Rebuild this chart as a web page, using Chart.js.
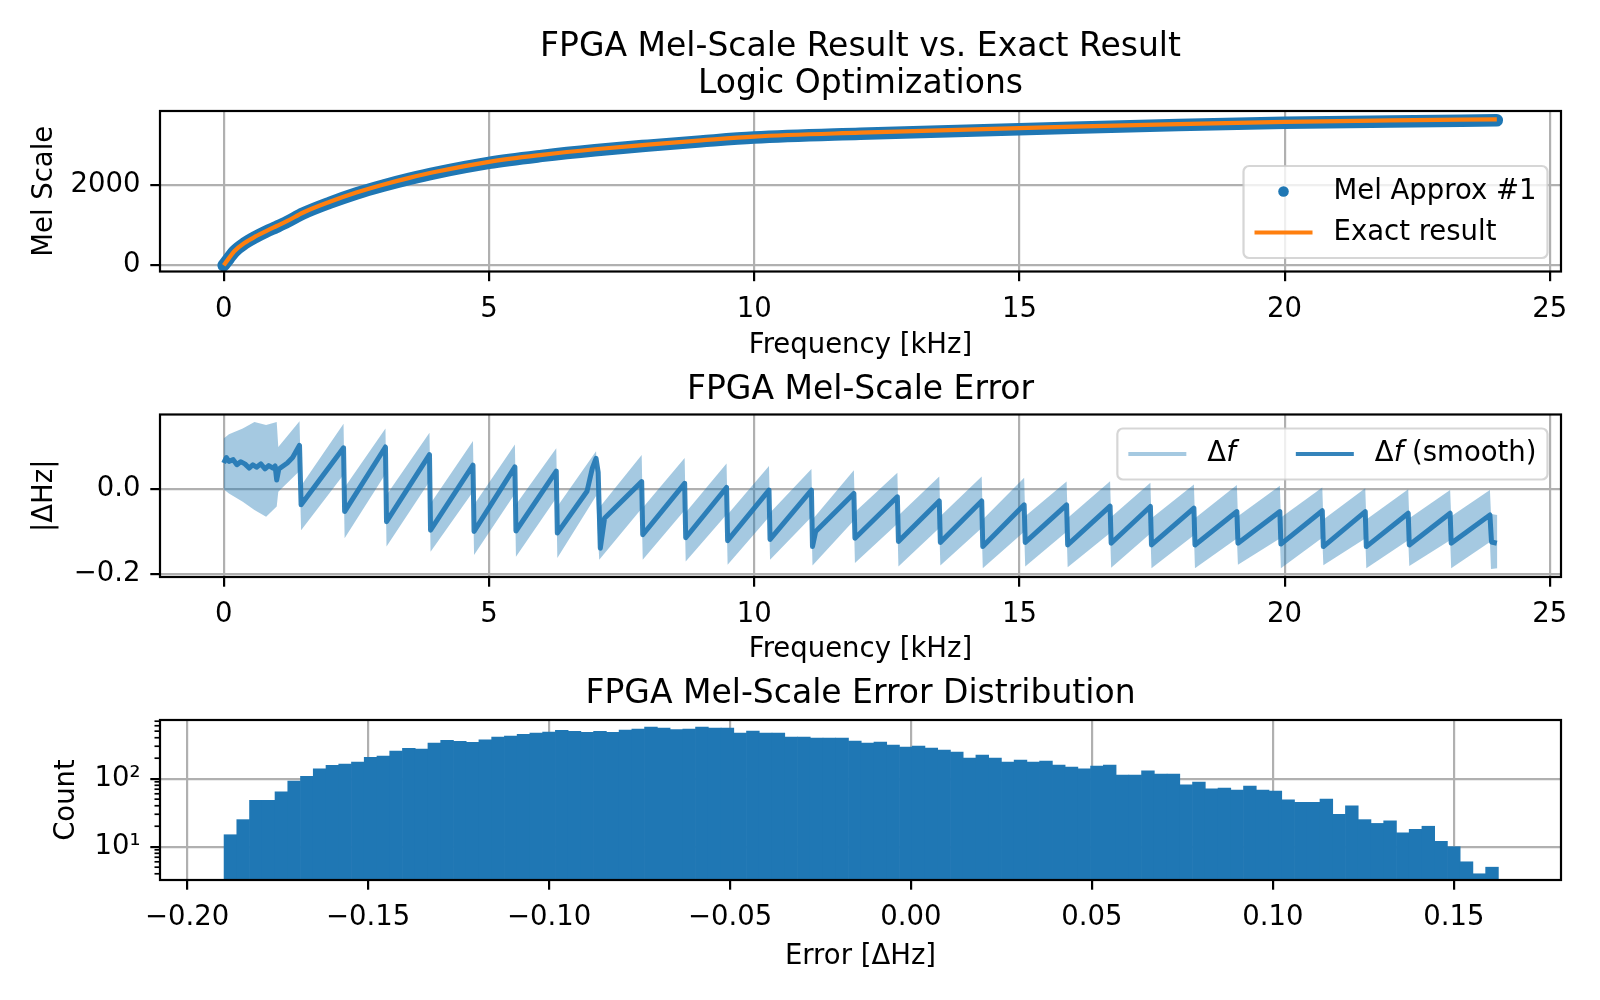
<!DOCTYPE html>
<html>
<head>
<meta charset="utf-8">
<title>FPGA Mel-Scale Result vs. Exact Result</title>
<script src="https://cdn.jsdelivr.net/npm/chart.js@4.4.1/dist/chart.umd.min.js"></script>
<style>
  html, body { margin: 0; padding: 0; background: #fff; }
  #wrap { position: relative; width: 1600px; height: 1000px; overflow: hidden; }
  canvas { position: absolute; left: 0; }
</style>
</head>
<body>
<div id="wrap">
  <canvas id="melChart" width="1600" height="370" style="top:0px"></canvas>
  <canvas id="errChart" width="1600" height="315" style="top:355px"></canvas>
  <canvas id="histChart" width="1600" height="345" style="top:655px"></canvas>
</div>
<script>
// ---- top plot: mel scale vs frequency [kHz]
const melFreq = [0, 0.1, 0.2, 0.4, 0.6, 0.8, 1.0, 1.2, 1.5, 2, 2.5, 3, 3.5, 4, 5, 6, 7, 8, 9, 10, 12, 14, 16, 18, 20, 22, 24];
const melExact = [0, 178, 350, 560, 716, 850, 975, 1100, 1310, 1575, 1805, 2000, 2170, 2320, 2568, 2740, 2880, 2995, 3100, 3195, 3290, 3365, 3440, 3505, 3560, 3595, 3622];
const melApprox = [0, 172, 340, 548, 702, 836, 955, 1080, 1288, 1552, 1782, 1976, 2146, 2296, 2543, 2715, 2855, 2970, 3075, 3170, 3265, 3340, 3415, 3480, 3535, 3570, 3598];
const melYTicks = [0, 2000];

// ---- middle plot: error vs frequency
const smoothFreq = [0.00, 0.05, 0.10, 0.18, 0.25, 0.32, 0.40, 0.48, 0.55, 0.62, 0.70, 0.78, 0.85, 0.93, 0.97, 1.00, 1.04, 1.20, 1.30, 1.43, 1.46,
  2.26, 2.28, 3.05, 3.07, 3.88, 3.90, 4.70, 4.72, 5.49, 5.51, 6.27, 6.29, 6.85, 6.95, 7.02, 7.06, 7.10, 7.18,
  7.88, 7.90, 8.69, 8.71, 9.48, 9.50, 10.28, 10.30, 11.08, 11.10, 11.16, 11.88, 11.90, 12.70, 12.72, 13.49, 13.51,
  14.29, 14.31, 15.09, 15.11, 15.89, 15.91, 16.71, 16.73, 17.47, 17.49, 18.29, 18.31, 19.10, 19.12, 19.91, 19.93,
  20.71, 20.73, 21.52, 21.54, 22.33, 22.35, 23.12, 23.14, 23.87, 23.90, 24.00];
const smoothErr = [0.062, 0.075, 0.066, 0.070, 0.058, 0.065, 0.060, 0.050, 0.058, 0.052, 0.060, 0.048, 0.056, 0.050, 0.055, 0.022, 0.048, 0.062, 0.075, 0.104, -0.037,
  0.098, -0.053, 0.100, -0.077, 0.082, -0.097, 0.057, -0.100, 0.053, -0.099, 0.043, -0.104, -0.005, 0.050, 0.073, 0.040, -0.140, -0.069,
  0.018, -0.108, 0.014, -0.115, 0.004, -0.122, -0.002, -0.119, -0.002, -0.136, -0.100, -0.010, -0.116, -0.018, -0.124, -0.028, -0.126,
  -0.028, -0.136, -0.037, -0.126, -0.037, -0.132, -0.040, -0.128, -0.041, -0.132, -0.045, -0.132, -0.053, -0.128, -0.053, -0.130,
  -0.051, -0.136, -0.053, -0.136, -0.057, -0.132, -0.057, -0.128, -0.061, -0.125, -0.128];

const bandFreq = [0.00, 0.10, 0.36, 0.58, 0.80, 1.00, 1.03, 1.43, 1.46, 2.26, 2.28, 3.05, 3.07, 3.88, 3.90, 4.70, 4.72, 5.49, 5.51,
  6.27, 6.29, 7.02, 7.08, 7.88, 7.90, 8.69, 8.71, 9.48, 9.50, 10.28, 10.30, 11.08, 11.10, 11.88, 11.90, 12.70, 12.72,
  13.49, 13.51, 14.29, 14.31, 15.09, 15.11, 15.89, 15.91, 16.71, 16.73, 17.47, 17.49, 18.29, 18.31, 19.10, 19.12,
  19.91, 19.93, 20.71, 20.73, 21.52, 21.54, 22.33, 22.35, 23.12, 23.14, 23.87, 23.89, 24.01];
const bandUpper = [0.120, 0.130, 0.144, 0.159, 0.152, 0.159, 0.100, 0.161, 0.008, 0.155, 0.004, 0.144, -0.014, 0.134, -0.034, 0.114, -0.037, 0.106, -0.036,
  0.097, -0.041, 0.090, -0.044, 0.081, -0.044, 0.074, -0.055, 0.061, -0.060, 0.055, -0.056, 0.048, -0.072, 0.045, -0.054, 0.039, -0.062,
  0.030, -0.064, 0.030, -0.072, 0.027, -0.064, 0.018, -0.068, 0.019, -0.066, 0.015, -0.069, 0.011, -0.069, 0.010, -0.064,
  0.008, -0.067, 0.004, -0.072, 0.002, -0.072, 0.000, -0.069, -0.002, -0.064, -0.002, -0.059, -0.061];
const bandLower = [0.000, -0.010, -0.030, -0.049, -0.065, -0.041, -0.006, 0.043, -0.097, 0.034, -0.116, 0.036, -0.136, 0.018, -0.148, -0.006, -0.156, -0.011, -0.160,
  -0.021, -0.163, -0.016, -0.167, -0.046, -0.167, -0.050, -0.171, -0.060, -0.179, -0.066, -0.167, -0.066, -0.181, -0.074, -0.175, -0.082, -0.183,
  -0.092, -0.181, -0.092, -0.187, -0.101, -0.183, -0.101, -0.185, -0.104, -0.186, -0.105, -0.187, -0.109, -0.187, -0.117, -0.179,
  -0.117, -0.187, -0.115, -0.180, -0.117, -0.187, -0.121, -0.182, -0.121, -0.187, -0.125, -0.189, -0.187];
const errYTicks = [-0.2, 0.0];

// ---- bottom plot: histogram of the error, 100 bins
const histStart = -0.1898;
const histBinWidth = 0.003521;
const histCounts = [15, 25, 48, 48, 64, 92, 108, 139, 157, 164, 176, 206, 215, 255, 279, 273, 335, 366, 354, 342,
  371, 410, 424, 449, 470, 486, 514, 497, 480, 497, 480, 520, 538, 572, 556, 526, 538, 575, 556, 556,
  470, 502, 470, 470, 410, 410, 396, 396, 396, 358, 335, 346, 313, 292, 302, 282, 264, 247, 201, 223,
  201, 176, 188, 176, 182, 159, 148, 139, 153, 159, 113, 113, 130, 117, 117, 81, 89, 71, 73, 68,
  78, 68, 66, 49, 45, 45, 50, 30, 40, 25, 22, 24, 16, 18, 20, 12, 10, 6, 4, 5];
const logMajorTicks = [10, 100];
const logMinorTicks = [4, 5, 6, 7, 8, 9, 20, 30, 40, 50, 60, 70, 80, 90, 200, 300, 400, 500, 600, 700];

const BLUE = '#1f77b4';
const ORANGE = '#ff7f0e';
const BAND = 'rgba(31,119,180,0.4)';
const SMOOTH = 'rgba(31,119,180,0.9)';
const GRID = '#b0b0b0';
const LW = 2.2;
const FS = 27.5;

Chart.defaults.font.family = "'DejaVu Sans', sans-serif";
Chart.defaults.color = '#000';
Chart.defaults.animation = false;

const pts = (xs, ys) => xs.map((x, i) => ({ x: x, y: ys[i] }));
const minus = (s) => s.replace('-', '\u2212');

// black frame round the axes + minor log ticks
const axesFrame = {
  id: 'axesFrame',
  afterDraw(chart, args, opts) {
    const ctx = chart.ctx;
    const a = chart.chartArea;
    ctx.save();
    ctx.strokeStyle = '#000';
    if (opts.minorTicks) {
      const y = chart.scales.y;
      ctx.lineWidth = 1.7;
      opts.minorTicks.forEach((v) => {
        const p = y.getPixelForValue(v);
        if (p < a.top || p > a.bottom) return;
        ctx.beginPath();
        ctx.moveTo(a.left, p);
        ctx.lineTo(a.left - 5.5, p);
        ctx.stroke();
      });
    }
    ctx.lineWidth = LW;
    ctx.strokeRect(a.left, a.top, a.right - a.left, a.bottom - a.top);
    ctx.restore();
  }
};

// matplotlib-like legend box (supports italic pieces of text)
const mplLegend = {
  id: 'mplLegend',
  afterDraw(chart, args, opts) {
    if (!opts.items) return;
    const ctx = chart.ctx;
    const a = chart.chartArea;
    const pad = 11, handleLen = 58, textPad = 21, colGap = 60, rowH = 29, rowGap = 12;
    const ncol = opts.ncol || 1;
    const nrow = Math.ceil(opts.items.length / ncol);
    const fontOf = (seg) => (seg.italic ? 'italic ' : '') + FS + "px 'DejaVu Sans'";
    ctx.save();
    const widths = opts.items.map((it) => it.label.reduce((w, seg) => {
      ctx.font = fontOf(seg);
      return w + ctx.measureText(seg.text).width;
    }, 0));
    const colW = [];
    for (let c = 0; c < ncol; c++) {
      let m = 0;
      for (let r = 0; r < nrow; r++) {
        const i = c * nrow + r;
        if (i < widths.length) m = Math.max(m, widths[i]);
      }
      colW.push(handleLen + textPad + m);
    }
    const boxW = 2 * pad + colW.reduce((s, w) => s + w, 0) + (ncol - 1) * colGap;
    const boxH = 2 * pad + nrow * rowH + (nrow - 1) * rowGap;
    const x0 = a.right - 13.5 - boxW;
    const y0 = opts.loc === 'upper right' ? a.top + 14 : a.bottom - 13.5 - boxH;
    const rad = 5.6;
    ctx.beginPath();
    ctx.moveTo(x0 + rad, y0);
    ctx.arcTo(x0 + boxW, y0, x0 + boxW, y0 + boxH, rad);
    ctx.arcTo(x0 + boxW, y0 + boxH, x0, y0 + boxH, rad);
    ctx.arcTo(x0, y0 + boxH, x0, y0, rad);
    ctx.arcTo(x0, y0, x0 + boxW, y0, rad);
    ctx.closePath();
    ctx.fillStyle = 'rgba(255,255,255,0.8)';
    ctx.fill();
    ctx.lineWidth = 2.2;
    ctx.strokeStyle = 'rgba(204,204,204,0.8)';
    ctx.stroke();

    opts.items.forEach((it, i) => {
      const c = Math.floor(i / nrow);
      const r = i % nrow;
      let cx = x0 + pad + c * colGap;
      for (let k = 0; k < c; k++) cx += colW[k];
      const cy = y0 + pad + r * (rowH + rowGap) + rowH / 2;
      if (it.kind === 'dot') {
        ctx.beginPath();
        ctx.fillStyle = it.color;
        ctx.arc(cx + handleLen / 2, cy, 5.3, 0, Math.PI * 2);
        ctx.fill();
      } else {
        ctx.beginPath();
        ctx.strokeStyle = it.color;
        ctx.lineWidth = it.width || 4.2;
        ctx.moveTo(cx, cy);
        ctx.lineTo(cx + handleLen, cy);
        ctx.stroke();
      }
      let tx = cx + handleLen + textPad;
      ctx.fillStyle = '#000';
      ctx.textBaseline = 'middle';
      ctx.textAlign = 'left';
      it.label.forEach((seg) => {
        ctx.font = fontOf(seg);
        ctx.fillText(seg.text, tx, cy);
        tx += ctx.measureText(seg.text).width;
      });
    });
    ctx.restore();
  }
};

function xAxis(min, max, step, fmt, titleText, titlePadBottom, height, z) {
  return {
    type: 'linear', min: min, max: max, offset: false, z: z || 0,
    afterFit: (s) => { s.height = height; },
    grid: { color: GRID, lineWidth: LW, tickLength: 9.7, tickColor: '#000', tickWidth: LW, offset: false },
    border: { display: false },
    ticks: { stepSize: step, includeBounds: false, padding: 12, autoSkip: false, maxRotation: 0,
      font: { size: FS }, color: '#000', callback: fmt },
    title: { display: true, text: titleText, font: { size: FS }, color: '#000', padding: { top: 0, bottom: titlePadBottom } }
  };
}

function yAxis(min, max, tickValues, fmt, titleText, titlePadTop) {
  return {
    type: 'linear', min: min, max: max,
    afterFit: (s) => { s.width = 160; },
    afterBuildTicks: (s) => { s.ticks = tickValues.map((v) => ({ value: v })); },
    grid: { color: GRID, lineWidth: LW, tickLength: 9.7, tickColor: '#000', tickWidth: LW },
    border: { display: false },
    ticks: { padding: 9.7, autoSkip: false, font: { size: FS }, color: '#000', callback: fmt },
    title: { display: true, text: titleText, font: { size: FS }, color: '#000', padding: { top: titlePadTop, bottom: 0 } }
  };
}

function titleOpts(text, top, bottom) {
  return {
    display: true, text: text, fullSize: false, color: '#000',
    font: { size: 33, weight: 'normal', lineHeight: 1.109 },
    padding: { top: top, bottom: bottom }
  };
}

const layout = { padding: { left: 0, right: 39, top: 0, bottom: 0 } };
const kHzFmt = (v) => String(Math.round(v));

// ---- chart 1
new Chart(document.getElementById('melChart'), {
  type: 'line',
  data: {
    datasets: [
      { label: 'Exact result', data: pts(melFreq, melExact), borderColor: ORANGE, borderWidth: 4.2,
        pointRadius: 0, cubicInterpolationMode: 'monotone', fill: false },
      { label: 'Mel Approx #1', data: pts(melFreq, melApprox), borderColor: BLUE, borderWidth: 12.5,
        borderCapStyle: 'round', borderJoinStyle: 'round', pointRadius: 0, cubicInterpolationMode: 'monotone', fill: false }
    ]
  },
  options: {
    responsive: false,
    layout: layout,
    scales: {
      x: xAxis(-1.2, 25.21, 5, kHzFmt, 'Frequency [kHz]', 7.5, 98.5),
      y: yAxis(-154, 3829, melYTicks, (v) => String(Math.round(v)), 'Mel Scale', 28.5)
    },
    plugins: {
      legend: { display: false },
      tooltip: { enabled: false },
      title: titleOpts(['FPGA Mel-Scale Result vs. Exact Result', 'Logic Optimizations'], 29.5, 8.3),
      mplLegend: {
        loc: 'lower right',
        items: [
          { kind: 'dot', color: BLUE, label: [{ text: 'Mel Approx #1' }] },
          { kind: 'line', color: ORANGE, label: [{ text: 'Exact result' }] }
        ]
      }
    }
  },
  plugins: [axesFrame, mplLegend]
});

// ---- chart 2
new Chart(document.getElementById('errChart'), {
  type: 'line',
  data: {
    datasets: [
      { label: '\u0394f (smooth)', data: pts(smoothFreq, smoothErr), borderColor: SMOOTH, borderWidth: 5,
        borderJoinStyle: 'round', pointRadius: 0, tension: 0, fill: false },
      { label: '\u0394f', data: pts(bandFreq, bandUpper), borderColor: 'rgba(0,0,0,0)', borderWidth: 0,
        pointRadius: 0, tension: 0, fill: '+1', backgroundColor: BAND },
      { label: '\u0394f lower', data: pts(bandFreq, bandLower), borderColor: 'rgba(0,0,0,0)', borderWidth: 0,
        pointRadius: 0, tension: 0, fill: false }
    ]
  },
  options: {
    responsive: false,
    layout: layout,
    scales: {
      x: xAxis(-1.2, 25.21, 5, kHzFmt, 'Frequency [kHz]', 3.5, 93),
      y: yAxis(-0.208, 0.177, errYTicks, (v) => minus((Math.abs(v) < 1e-9 ? 0 : v).toFixed(1)), '|\u0394Hz|', 28.5)
    },
    plugins: {
      legend: { display: false },
      tooltip: { enabled: false },
      filler: { propagate: false },
      title: titleOpts('FPGA Mel-Scale Error', 17.5, 5.4),
      mplLegend: {
        loc: 'upper right',
        ncol: 2,
        items: [
          { kind: 'line', color: BAND, label: [{ text: '\u0394' }, { text: 'f', italic: true }] },
          { kind: 'line', color: SMOOTH, label: [{ text: '\u0394' }, { text: 'f', italic: true }, { text: ' (smooth)' }] }
        ]
      }
    }
  },
  plugins: [axesFrame, mplLegend]
});

// ---- chart 3
const histPts = histCounts.map((c, i) => ({ x: histStart + (i + 0.5) * histBinWidth, y: c }));
const histY = yAxis(3.24, 729, logMajorTicks, (v) => (v === 10 ? '10\u00b9' : v === 100 ? '10\u00b2' : ''), 'Count', 50.8);
histY.type = 'logarithmic';
histY.z = 1;

new Chart(document.getElementById('histChart'), {
  type: 'bar',
  data: {
    datasets: [
      { label: 'Count', data: histPts, backgroundColor: BLUE, borderWidth: 0,
        barPercentage: 1, categoryPercentage: 1 }
    ]
  },
  options: {
    responsive: false,
    layout: layout,
    scales: {
      x: xAxis(-0.2075, 0.1796, 0.05, (v) => minus((Math.abs(v) < 1e-9 ? 0 : v).toFixed(2)), 'Error [\u0394Hz]', 26.5, 120, 1),
      y: histY
    },
    plugins: {
      legend: { display: false },
      tooltip: { enabled: false },
      title: titleOpts('FPGA Mel-Scale Error Distribution', 20.7, 7.7),
      axesFrame: { minorTicks: logMinorTicks }
    }
  },
  plugins: [axesFrame, mplLegend]
});
</script>
</body>
</html>
